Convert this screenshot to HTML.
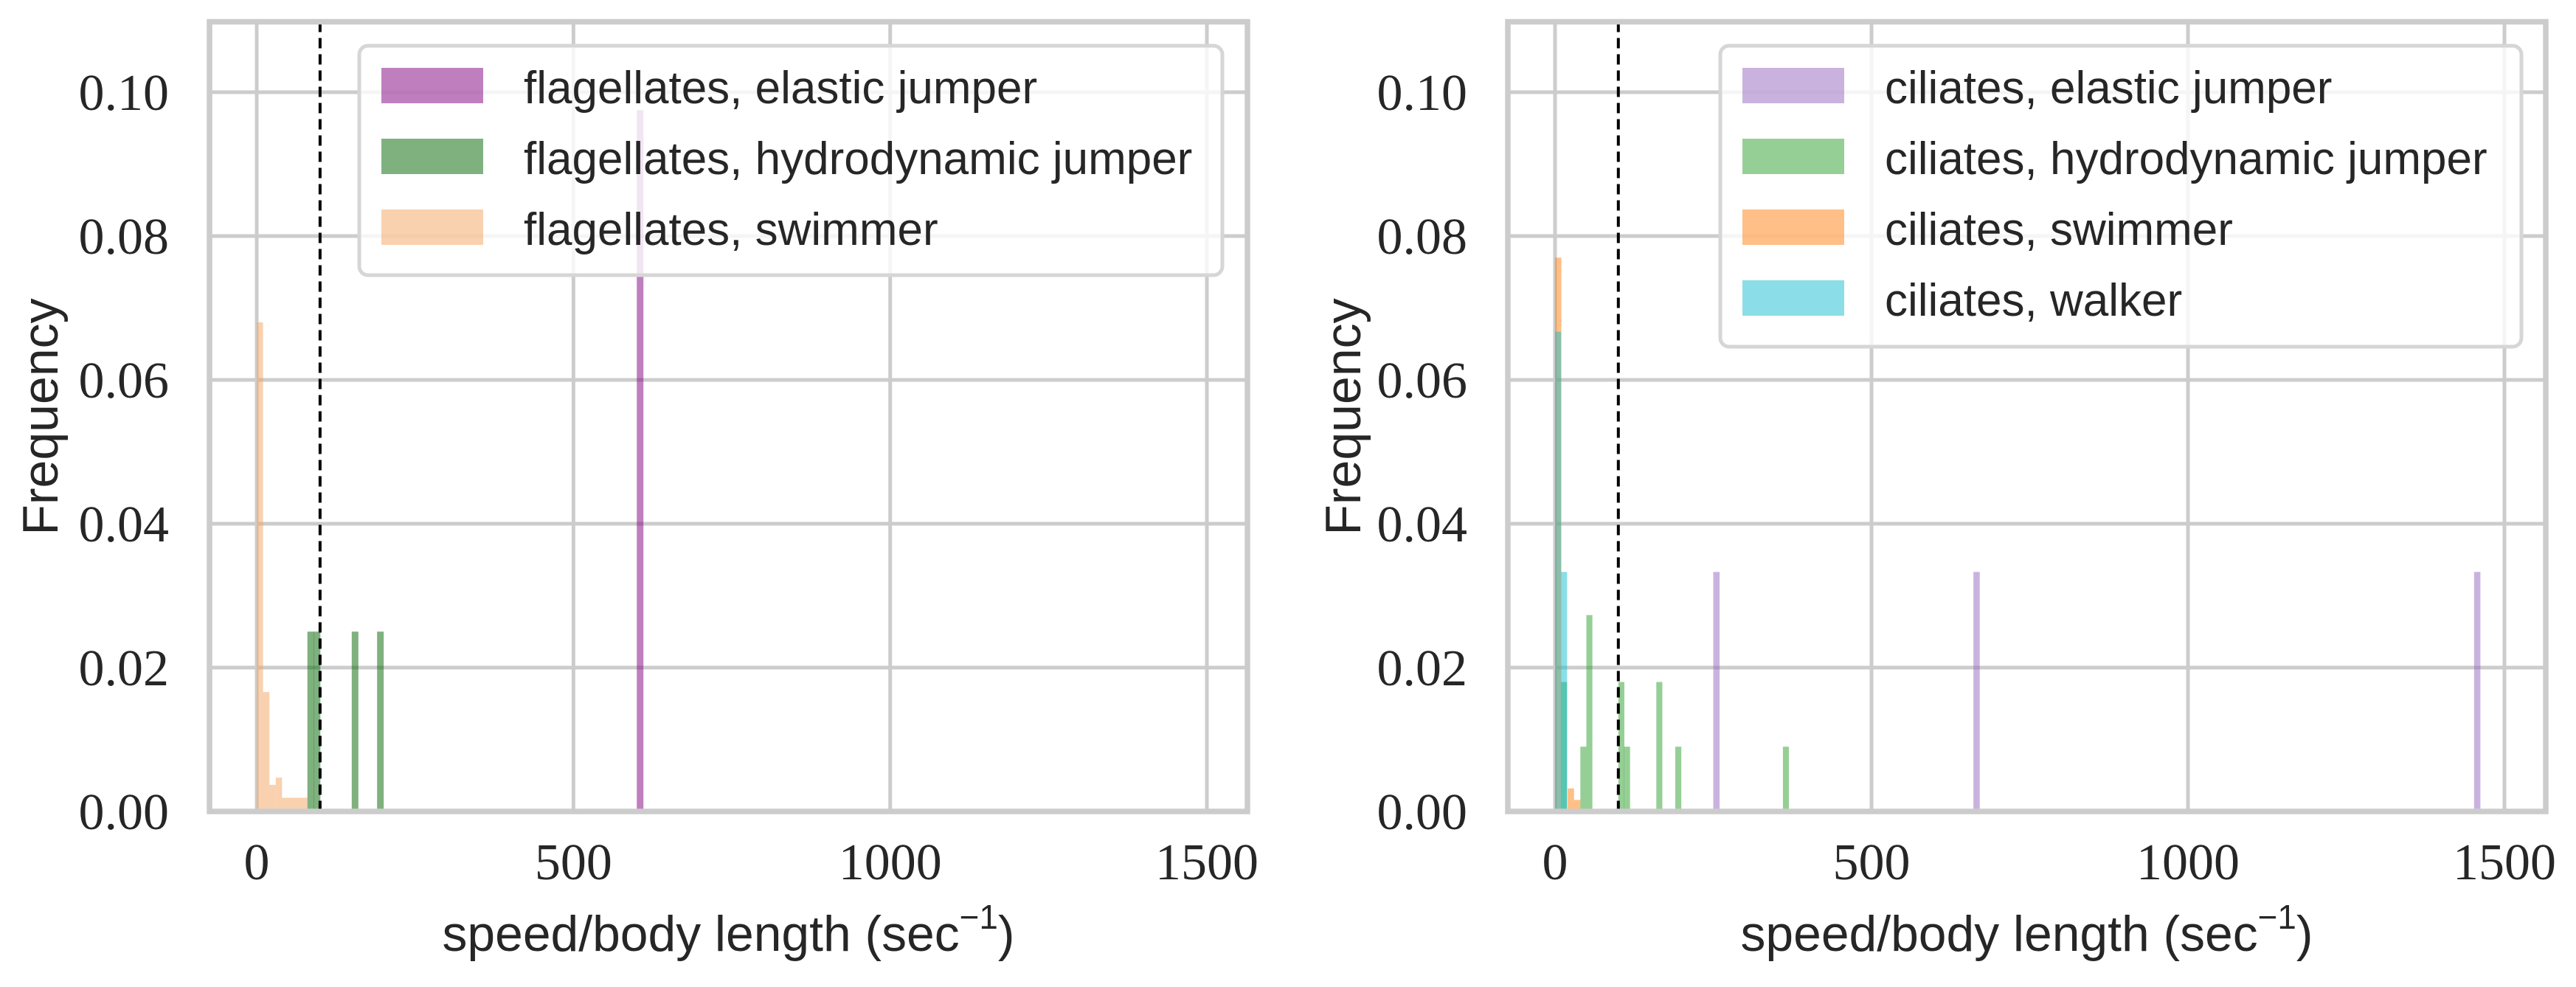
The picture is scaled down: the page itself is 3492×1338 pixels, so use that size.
<!DOCTYPE html>
<html><head><meta charset="utf-8"><style>
html,body{margin:0;padding:0;background:#fff;}
svg{display:block;}
.tick{font-family:"Liberation Serif",serif;font-size:70px;fill:#262626;}
.lab{font-family:"Liberation Sans",sans-serif;font-size:68px;fill:#262626;}
.leg{font-family:"Liberation Sans",sans-serif;font-size:62px;fill:#262626;}
</style></head><body>
<svg id="chart" width="3492" height="1338" viewBox="0 0 3492 1338" xmlns="http://www.w3.org/2000/svg"></svg>
<script>
const yTicks=[0,0.02,0.04,0.06,0.08,0.10];
const yTickLabels=["0.00","0.02","0.04","0.06","0.08","0.10"];
const xTicks=[0,500,1000,1500];
const xTickLabels=["0","500","1000","1500"];
const threshold=100;
// left panel (flagellates)
const flagElasticX=[600];
const flagElasticY=[0.0975];
const flagHydroX=[80,90,150,190];
const flagHydroY=[0.025,0.025,0.025,0.025];
const flagSwimX=[0,10,20,30,40,50,60,70];
const flagSwimY=[0.068,0.0166,0.0037,0.0047,0.0019,0.0019,0.0019,0.0019];
// right panel (ciliates)
const cilElasticX=[250,661,1452];
const cilElasticY=[0.0333,0.0333,0.0333];
const cilHydroX=[9.5,40,49.5,100,109,160,190,360];
const cilHydroY=[0.018,0.009,0.0273,0.018,0.009,0.018,0.009,0.009];
const cilSwimX=[0,20,30];
const cilSwimY=[0.077,0.0032,0.0016];
const cilWalkX=[0,9.5];
const cilWalkY=[0.0667,0.0333];

const NS="http://www.w3.org/2000/svg";
const svg=document.getElementById('chart');
function mk(tag,attrs,parent){const e=document.createElementNS(NS,tag);for(const k in attrs)e.setAttribute(k,attrs[k]);(parent||svg).appendChild(e);return e;}

const panels=[
 {name:'flagellates',left:284,right:1691,x0:348,k:0.8587,
  series:[
   {name:'elastic',x:flagElasticX,y:flagElasticY,color:'#800080',w:10.5,label:'flagellates, elastic jumper'},
   {name:'hydrodynamic',x:flagHydroX,y:flagHydroY,color:'#006400',w:10.5,label:'flagellates, hydrodynamic jumper'},
   {name:'swimmer',x:flagSwimX,y:flagSwimY,color:'#f4a460',w:10,label:'flagellates, swimmer'}],
  legend:{x:487,y:62,w:1170,h:311,patchX:517,textX:710},ylabelX:58},
 {name:'ciliates',left:2044,right:3451,x0:2108,k:0.858,
  series:[
   {name:'elastic',x:cilElasticX,y:cilElasticY,color:'#9467bd',w:10,label:'ciliates, elastic jumper'},
   {name:'hydrodynamic',x:cilHydroX,y:cilHydroY,color:'#2ca02c',w:9.5,label:'ciliates, hydrodynamic jumper'},
   {name:'swimmer',x:cilSwimX,y:cilSwimY,color:'#ff7f0e',w:10,label:'ciliates, swimmer'},
   {name:'walker',x:cilWalkX,y:cilWalkY,color:'#17becf',w:9.5,label:'ciliates, walker'}],
  legend:{x:2332,y:62,w:1086,h:408,patchX:2362,textX:2555},ylabelX:1824}
];
const topY=29.5, y0=1100, ky=9750;
const ys=v=>y0-v*ky;

panels.forEach(p=>{
 const xs=v=>p.x0+v*p.k;
 const g=mk('g',{});
 
 
 yTicks.forEach((t,i)=>{
  const l=mk('line',{x1:p.left,x2:p.right,y1:ys(t),y2:ys(t),stroke:'#cccccc','stroke-width':5},g);
  
  
  const tx=mk('text',{x:p.left-55,y:ys(t)+24,'text-anchor':'end',class:'tick'},g);
  tx.textContent=yTickLabels[i];
  
  
 });
 xTicks.forEach((t,i)=>{
  const l=mk('line',{x1:xs(t),x2:xs(t),y1:topY,y2:y0,stroke:'#cccccc','stroke-width':5},g);
  
  
  const tx=mk('text',{x:xs(t),y:1192,'text-anchor':'middle',class:'tick'},g);
  tx.textContent=xTickLabels[i];
  
  
 });
 p.series.forEach(s=>{
  s.x.forEach((v,i)=>{
   const r=mk('rect',{x:xs(v),y:ys(s.y[i]),width:s.w*p.k,height:s.y[i]*ky,fill:s.color,'fill-opacity':0.5},g);
   
   
  });
 });
 const d=mk('line',{x1:xs(threshold),x2:xs(threshold),y1:topY,y2:y0,stroke:'#000','stroke-width':4,'stroke-dasharray':'14,8'},g);
 
 
 const L=p.legend;
 const lg=mk('g',{},g);
 
 
 const lb=mk('rect',{x:L.x,y:L.y,width:L.w,height:L.h,rx:12,fill:'#ffffff','fill-opacity':0.8,stroke:'#d6d6d6','stroke-width':5},lg);
 
 
 p.series.forEach((s,i)=>{
  const py=92+i*96;
  const pr=mk('rect',{x:L.patchX,y:py,width:138,height:48,fill:s.color,'fill-opacity':0.5},lg);
  
  
  const t=mk('text',{x:L.textX,y:py+48,class:'leg'},lg);
  t.textContent=s.label;
  
  
 });
 const sp=mk('rect',{x:p.left,y:topY,width:p.right-p.left,height:y0-topY,fill:'none',stroke:'#cccccc','stroke-width':7.5},g);
 
 
 const cx=(p.left+p.right)/2;
 const xl=mk('text',{x:cx,y:1289,'text-anchor':'middle',class:'lab',textLength:776,lengthAdjust:'spacingAndGlyphs'},g);
 xl.textContent='speed/body length (sec';
 const sup=mk('tspan',{dy:-30,'font-size':46},xl);
 sup.textContent='−1';
 const cl=mk('tspan',{dy:30},xl);
 cl.textContent=')';
 
 
 const yl=mk('text',{x:0,y:0,'text-anchor':'middle',class:'lab',transform:`translate(${p.ylabelX+20},565) rotate(-90)`},g);
 yl.textContent='Frequency';
 
 
});
</script>
</body></html>
